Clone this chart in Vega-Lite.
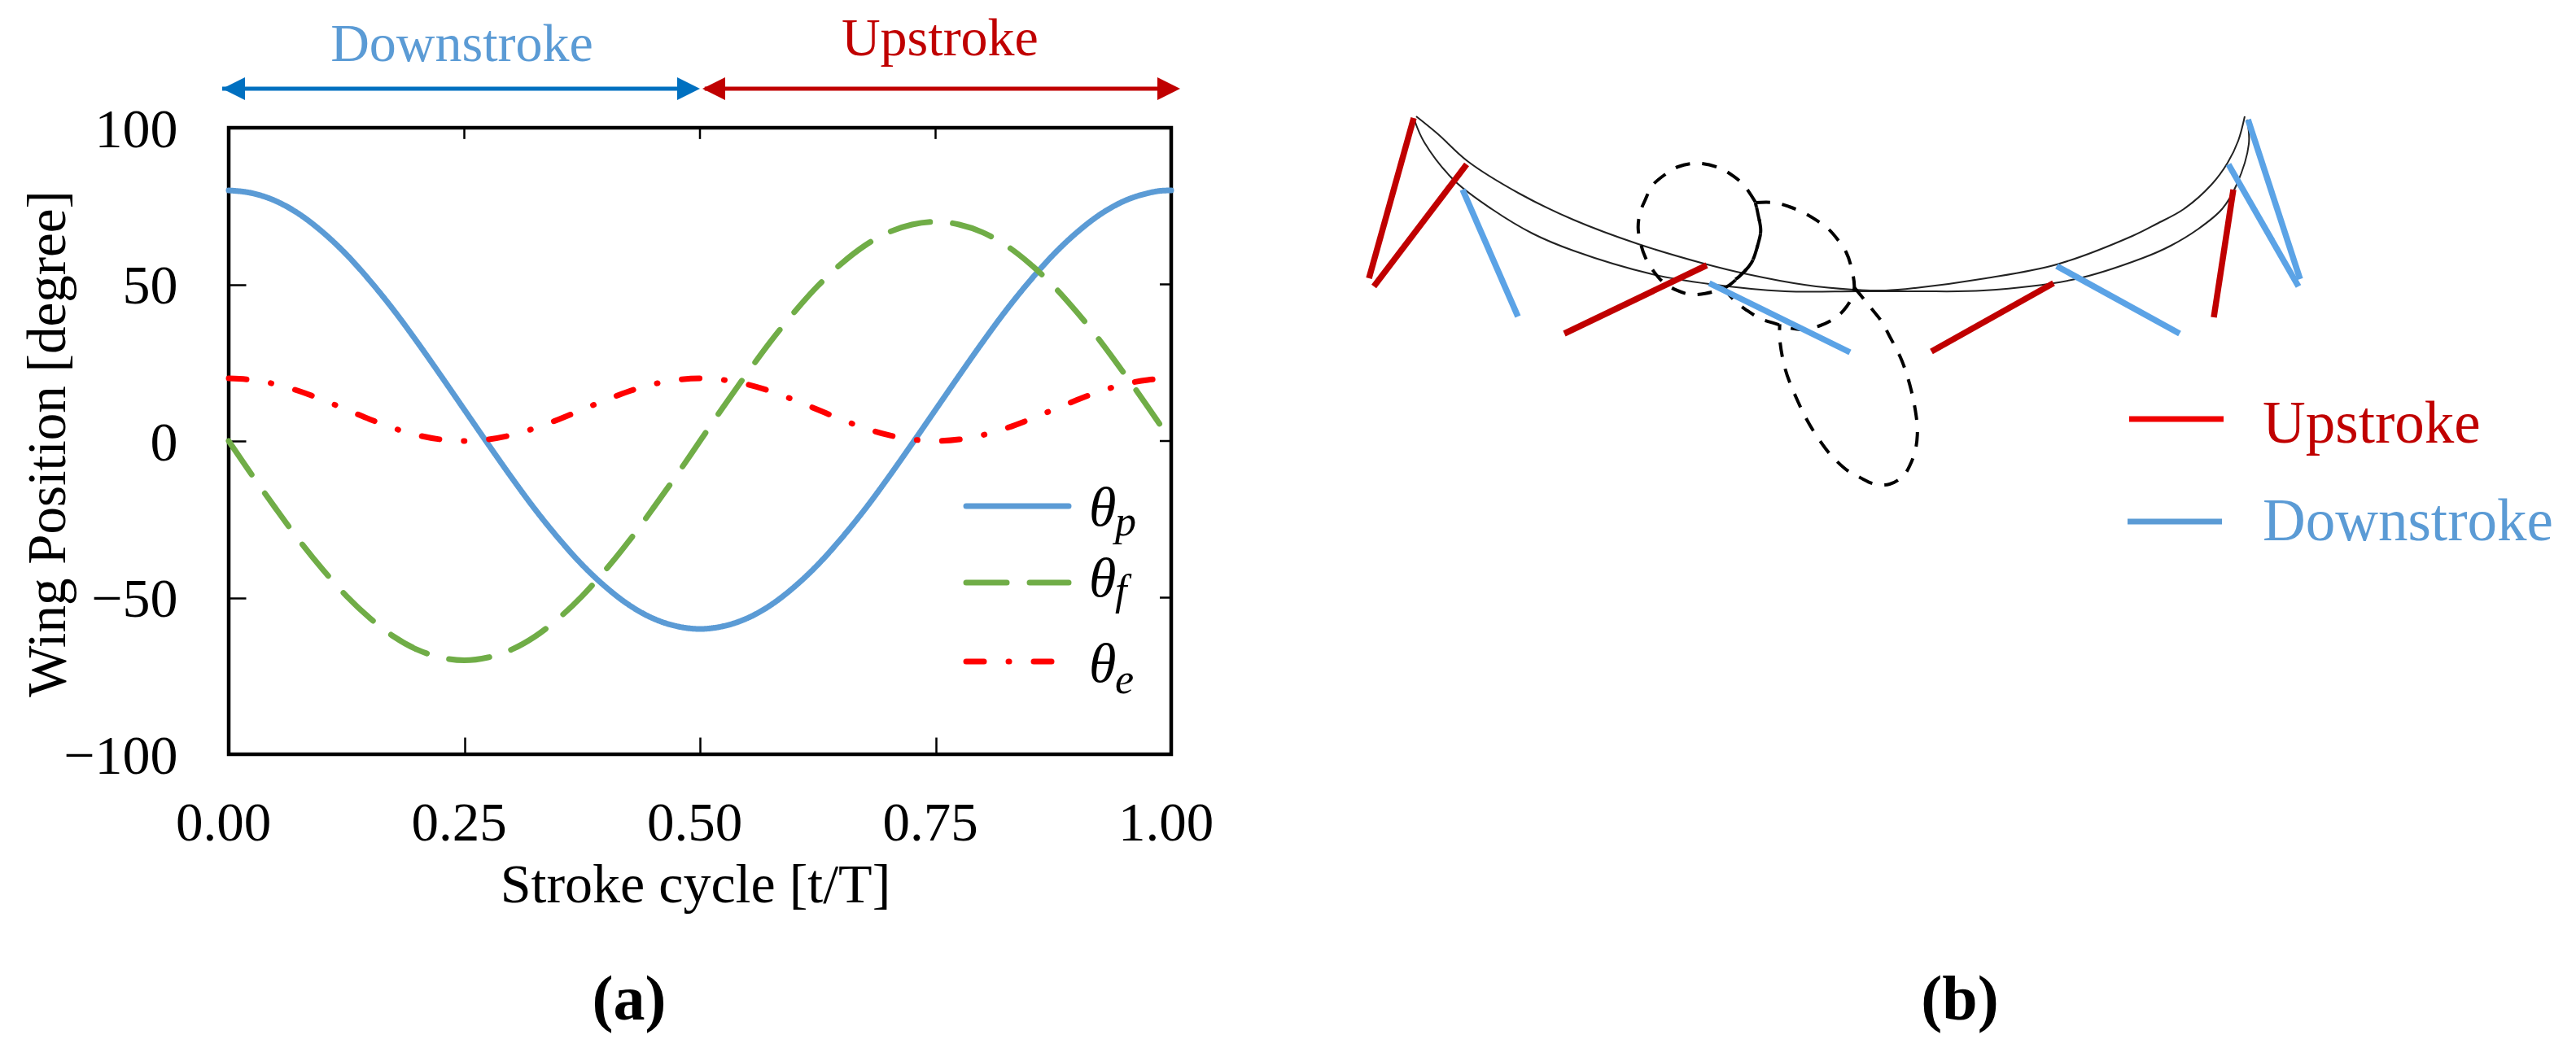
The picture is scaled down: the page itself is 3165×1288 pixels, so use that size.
{
"$schema":"https://vega.github.io/schema/vega-lite/v6.json",
"autosize":{"type":"none"},
"padding":{"left":281,"top":157,"right":2884,"bottom":1131},
"background":"white",
"bounds":"flush",
"spacing":161,
"config":{"font":"Liberation Serif","text":{"font":"Liberation Serif"}},
"hconcat":[
{"width":1158,"height":770,
 "view":{"stroke":"#000000","strokeWidth":4.5},
 "layer":[
 {"data":{"values":[
  {"t":0,"p":80,"f":0,"e":20},{"t":0.025,"p":79.1,"f":-11,"e":19.5},{"t":0.05,"p":76.6,"f":-21.6,"e":18.1},{"t":0.075,"p":72.4,"f":-31.8,"e":15.9},{"t":0.1,"p":66.6,"f":-41.1,"e":13.1},{"t":0.125,"p":59.5,"f":-49.5,"e":10},{"t":0.15,"p":51.1,"f":-56.6,"e":6.9},{"t":0.175,"p":41.8,"f":-62.4,"e":4.1},{"t":0.2,"p":31.6,"f":-66.6,"e":1.9},{"t":0.225,"p":20.9,"f":-69.1,"e":0.5},{"t":0.25,"p":10,"f":-70,"e":0},{"t":0.275,"p":-0.9,"f":-69.1,"e":0.5},{"t":0.3,"p":-11.6,"f":-66.6,"e":1.9},{"t":0.325,"p":-21.8,"f":-62.4,"e":4.1},{"t":0.35,"p":-31.1,"f":-56.6,"e":6.9},{"t":0.375,"p":-39.5,"f":-49.5,"e":10},{"t":0.4,"p":-46.6,"f":-41.1,"e":13.1},{"t":0.425,"p":-52.4,"f":-31.8,"e":15.9},{"t":0.45,"p":-56.6,"f":-21.6,"e":18.1},{"t":0.475,"p":-59.1,"f":-11,"e":19.5},{"t":0.5,"p":-60,"f":0,"e":20},{"t":0.525,"p":-59.1,"f":11,"e":19.5},{"t":0.55,"p":-56.6,"f":21.6,"e":18.1},{"t":0.575,"p":-52.4,"f":31.8,"e":15.9},{"t":0.6,"p":-46.6,"f":41.1,"e":13.1},{"t":0.625,"p":-39.5,"f":49.5,"e":10},{"t":0.65,"p":-31.1,"f":56.6,"e":6.9},{"t":0.675,"p":-21.8,"f":62.4,"e":4.1},{"t":0.7,"p":-11.6,"f":66.6,"e":1.9},{"t":0.725,"p":-0.9,"f":69.1,"e":0.5},{"t":0.75,"p":10,"f":70,"e":0},{"t":0.775,"p":20.9,"f":69.1,"e":0.5},{"t":0.8,"p":31.6,"f":66.6,"e":1.9},{"t":0.825,"p":41.8,"f":62.4,"e":4.1},{"t":0.85,"p":51.1,"f":56.6,"e":6.9},{"t":0.875,"p":59.5,"f":49.5,"e":10},{"t":0.9,"p":66.6,"f":41.1,"e":13.1},{"t":0.925,"p":72.4,"f":31.8,"e":15.9},{"t":0.95,"p":76.6,"f":21.6,"e":18.1},{"t":0.975,"p":79.1,"f":11,"e":19.5},{"t":0.99,"p":79.9,"f":4.4,"e":19.9},{"t":1,"p":80,"e":20}
  ]},
  "transform":[{"fold":["p","f","e"],"as":["series","angle"]},{"filter":"isValid(datum.angle)"}],
  "mark":{"type":"line","strokeWidth":7,"strokeCap":"round","interpolate":"monotone","clip":false},
  "encoding":{
   "x":{"field":"t","type":"quantitative","scale":{"domain":[0,1],"nice":false},
    "axis":{"values":[0,0.25,0.5,0.75,1],"format":".2f","domain":false,"grid":false,"tickSize":-21,"tickWidth":2.5,"tickColor":"#000","labelFontSize":67,"labelFont":"Liberation Serif","labelColor":"#000","labelPadding":126,"labelBaseline":"alphabetic","labelOffset":-7,"labelFlush":false,"labelOverlap":false,"title":"Stroke cycle [t/T]","titleFont":"Liberation Serif","titleFontWeight":"normal","titleFontSize":68,"titleColor":"#000","titleX":573,"titleY":181,"titleBaseline":"alphabetic","titleAlign":"center","titleAnchor":null}},
   "y":{"field":"angle","type":"quantitative","scale":{"domain":[-100,100],"nice":false},
    "axis":{"values":[-100,-50,0,50,100],"domain":false,"grid":false,"tickSize":-21,"tickWidth":2.5,"tickColor":"#000","labelFontSize":68,"labelFont":"Liberation Serif","labelColor":"#000","labelPadding":84,"labelOffset":3,"labelFlush":false,"labelOverlap":false,"title":"Wing Position [degree]","titleFont":"Liberation Serif","titleFontWeight":"normal","titleFontSize":67,"titleColor":"#000","titleX":-202,"titleY":388,"titleBaseline":"alphabetic","titleAlign":"center","titleAnchor":null,"titleAngle":-90}},
   "color":{"field":"series","type":"nominal","scale":{"domain":["p","f","e"],"range":["#5b9bd5","#70ad47","#ff0000"]},"legend":null},
   "strokeDash":{"field":"series","type":"nominal","scale":{"domain":["p","f","e"],"range":[[1,0],[50,28],[22,30,1,30]]},"legend":null}
  }},
 {"data":{"values":[
  {"series":"p","t":0.7824,"v":-20.8},{"series":"p","t":0.8912,"v":-20.8},
  {"series":"f","t":0.7824,"v":-45.2},{"series":"f","t":0.8912,"v":-45.2},
  {"series":"e","t":0.7824,"v":-70.4},{"series":"e","t":0.874,"v":-70.4}]},
  "mark":{"type":"line","strokeWidth":7,"strokeCap":"round"},
  "encoding":{"x":{"field":"t","type":"quantitative"},"y":{"field":"v","type":"quantitative"},
   "color":{"field":"series","type":"nominal","legend":null},
   "strokeDash":{"field":"series","type":"nominal","legend":null}}},
 {"data":{"values":[
  {"t":0.25,"t2":0.25,"v":100,"v2":96.4},{"t":0.5,"t2":0.5,"v":100,"v2":96.4},{"t":0.75,"t2":0.75,"v":100,"v2":96.4},
  {"t":1,"t2":0.9879,"v":50,"v2":50},{"t":1,"t2":0.9879,"v":0,"v2":0},{"t":1,"t2":0.9879,"v":-50,"v2":-50}]},
  "mark":{"type":"rule","strokeWidth":2.5,"color":"#000"},
  "encoding":{"x":{"field":"t","type":"quantitative"},"x2":{"field":"t2"},"y":{"field":"v","type":"quantitative"},"y2":{"field":"v2"}}},
 {"data":{"values":[{"part":"down","t":-0.0069,"v":112.5},{"part":"down","t":0.49,"v":112.5},{"part":"up","t":0.505,"v":112.5},{"part":"up","t":1.0,"v":112.5}]},
  "mark":{"type":"line","strokeWidth":5,"clip":false},
  "encoding":{"x":{"field":"t","type":"quantitative"},"y":{"field":"v","type":"quantitative"},
   "detail":{"field":"part"},
   "color":{"condition":{"test":"datum.part==='down'","value":"#0070c0"},"value":"#c00000"}}},
 {"data":{"values":[{"dir":"start","part":"down","t":0.0052,"v":112.5},{"dir":"end","part":"down","t":0.4879,"v":112.5},{"dir":"start","part":"up","t":0.5147,"v":112.5},{"dir":"end","part":"up","t":0.9974,"v":112.5}]},
  "mark":{"type":"point","filled":true,"size":784,"opacity":1,"clip":false},
  "encoding":{"x":{"field":"t","type":"quantitative"},"y":{"field":"v","type":"quantitative"},
   "shape":{"field":"dir","type":"nominal","scale":{"domain":["start","end"],"range":["M1,-1L-1,0L1,1Z","M-1,-1L1,0L-1,1Z"]},"legend":null},
   "color":{"condition":{"test":"datum.part==='down'","value":"#0070c0"},"value":"#c00000"}}},
 {"data":{"values":[{"label":"Downstroke","t":0.2474,"v":121.3,"part":"down"},{"label":"Upstroke","t":0.7547,"v":123.1,"part":"up"}]},
  "mark":{"type":"text","fontSize":66,"align":"center","baseline":"alphabetic"},
  "encoding":{"x":{"field":"t","type":"quantitative"},"y":{"field":"v","type":"quantitative"},"text":{"field":"label"},
   "color":{"condition":{"test":"datum.part==='down'","value":"#5b9bd5"},"value":"#c00000"}}},
 {"data":{"values":[{"label":"θ","t":0.9127,"v":-27},{"label":"θ","t":0.9127,"v":-49.6},{"label":"θ","t":0.9127,"v":-76.9}]},
  "mark":{"type":"text","fontSize":68,"fontStyle":"italic","align":"left","baseline":"alphabetic","color":"#000"},
  "encoding":{"x":{"field":"t","type":"quantitative"},"y":{"field":"v","type":"quantitative"},"text":{"field":"label"}}},
 {"data":{"values":[{"label":"p","t":0.9404,"v":-30.1},{"label":"f","t":0.9404,"v":-52.2},{"label":"e","t":0.9404,"v":-80.5}]},
  "mark":{"type":"text","fontSize":52,"fontStyle":"italic","align":"left","baseline":"alphabetic","color":"#000"},
  "encoding":{"x":{"field":"t","type":"quantitative"},"y":{"field":"v","type":"quantitative"},"text":{"field":"label"}}},
 {"data":{"values":[{"label":"(a)","t":0.4249,"v":-184.7}]},
  "mark":{"type":"text","fontSize":78,"fontWeight":"bold","align":"center","baseline":"alphabetic","color":"#000"},
  "encoding":{"x":{"field":"t","type":"quantitative"},"y":{"field":"v","type":"quantitative"},"text":{"field":"label"}}}
 ]},
{"width":1565,"height":770,
 "view":{"stroke":null},
 "encoding":{
   "x":{"field":"x","type":"quantitative","scale":{"domain":[1600,3165],"nice":false,"zero":false},"axis":null},
   "y":{"field":"y","type":"quantitative","scale":{"domain":[927,157],"nice":false,"zero":false},"axis":null}},
 "layer":[
 {"data":{"values":[
  {"part":"u","i":0,"x":1740,"y":143},{"part":"u","i":1,"x":1767,"y":165},{"part":"u","i":2,"x":1803,"y":198},{"part":"u","i":3,"x":1867,"y":238},{"part":"u","i":4,"x":1933,"y":270},{"part":"u","i":5,"x":2013,"y":300},{"part":"u","i":6,"x":2090,"y":323},{"part":"u","i":7,"x":2147,"y":337},{"part":"u","i":8,"x":2217,"y":350},{"part":"u","i":9,"x":2277,"y":356},{"part":"u","i":10,"x":2317,"y":357},{"part":"u","i":11,"x":2353,"y":354},{"part":"u","i":12,"x":2440,"y":342},{"part":"u","i":13,"x":2527,"y":325},{"part":"u","i":14,"x":2620,"y":290},{"part":"u","i":15,"x":2650,"y":275},{"part":"u","i":16,"x":2683,"y":257},{"part":"u","i":17,"x":2717,"y":227},{"part":"u","i":18,"x":2737,"y":200},{"part":"u","i":19,"x":2750,"y":173},{"part":"u","i":20,"x":2758,"y":143},
  {"part":"l","i":0,"x":1738,"y":148},{"part":"l","i":1,"x":1750,"y":175},{"part":"l","i":2,"x":1787,"y":222},{"part":"l","i":3,"x":1833,"y":257},{"part":"l","i":4,"x":1883,"y":287},{"part":"l","i":5,"x":1933,"y":308},{"part":"l","i":6,"x":2030,"y":337},{"part":"l","i":7,"x":2100,"y":349},{"part":"l","i":8,"x":2193,"y":358},{"part":"l","i":9,"x":2283,"y":358},{"part":"l","i":10,"x":2355,"y":358},{"part":"l","i":11,"x":2437,"y":357},{"part":"l","i":12,"x":2550,"y":343},{"part":"l","i":13,"x":2633,"y":317},{"part":"l","i":14,"x":2667,"y":302},{"part":"l","i":15,"x":2700,"y":282},{"part":"l","i":16,"x":2730,"y":257},{"part":"l","i":17,"x":2748,"y":227},{"part":"l","i":18,"x":2763,"y":177},{"part":"l","i":19,"x":2761,"y":147}]},
  "mark":{"type":"line","interpolate":"catmull-rom","strokeWidth":2,"color":"#222222","clip":false},
  "encoding":{"detail":{"field":"part"},"order":{"field":"i","type":"quantitative"}}},
 {"data":{"values":[
  {"part":"a","i":0,"x":2156.7,"y":248.3},{"part":"a","i":1,"x":2143.3,"y":228.3},{"part":"a","i":2,"x":2130,"y":216.7},{"part":"a","i":3,"x":2113.3,"y":206.7},{"part":"a","i":4,"x":2086.7,"y":200.7},{"part":"a","i":5,"x":2061.7,"y":205},{"part":"a","i":6,"x":2045,"y":215},{"part":"a","i":7,"x":2030,"y":228.3},{"part":"a","i":8,"x":2021.7,"y":245},{"part":"a","i":9,"x":2015,"y":261.7},{"part":"a","i":10,"x":2012.7,"y":280},{"part":"a","i":11,"x":2016,"y":300},{"part":"a","i":12,"x":2021.7,"y":316.7},{"part":"a","i":13,"x":2031.7,"y":333.3},{"part":"a","i":14,"x":2043.3,"y":346.7},{"part":"a","i":15,"x":2060,"y":356.7},{"part":"a","i":16,"x":2076.7,"y":361.7},{"part":"a","i":17,"x":2095,"y":360.7},{"part":"a","i":18,"x":2120,"y":353.3},{"part":"a","i":19,"x":2136.7,"y":340},{"part":"a","i":20,"x":2151.7,"y":323.3},{"part":"a","i":21,"x":2160,"y":300},{"part":"a","i":22,"x":2163.3,"y":283.3},{"part":"a","i":23,"x":2160,"y":263.3},{"part":"a","i":24,"x":2156.7,"y":248.3},
  {"part":"b","i":0,"x":2156.7,"y":249},{"part":"b","i":1,"x":2180,"y":249},{"part":"b","i":2,"x":2198.3,"y":254},{"part":"b","i":3,"x":2216.7,"y":261.7},{"part":"b","i":4,"x":2233.3,"y":271.7},{"part":"b","i":5,"x":2246.7,"y":281.7},{"part":"b","i":6,"x":2258.3,"y":295},{"part":"b","i":7,"x":2268.3,"y":310},{"part":"b","i":8,"x":2275,"y":330},{"part":"b","i":9,"x":2278.3,"y":353.3},{"part":"b","i":10,"x":2275,"y":366.7},{"part":"b","i":11,"x":2265,"y":381.7},{"part":"b","i":12,"x":2253.3,"y":391.7},{"part":"b","i":13,"x":2236.7,"y":400},{"part":"b","i":14,"x":2216.7,"y":405},{"part":"b","i":15,"x":2200,"y":403.3},{"part":"b","i":16,"x":2183.3,"y":398.3},{"part":"b","i":17,"x":2163.3,"y":391.7},{"part":"b","i":18,"x":2146.7,"y":381.7},{"part":"b","i":19,"x":2131.7,"y":370},{"part":"b","i":20,"x":2120,"y":353.3},{"part":"b","i":21,"x":2136.7,"y":340},{"part":"b","i":22,"x":2151.7,"y":323.3},{"part":"b","i":23,"x":2160,"y":300},{"part":"b","i":24,"x":2163.3,"y":283.3},{"part":"b","i":25,"x":2160,"y":263.3},{"part":"b","i":26,"x":2156.7,"y":249},
  {"part":"c","i":0,"x":2278.3,"y":353.3},{"part":"c","i":1,"x":2300,"y":380},{"part":"c","i":2,"x":2311.7,"y":395},{"part":"c","i":3,"x":2321.7,"y":413.3},{"part":"c","i":4,"x":2336.7,"y":443.3},{"part":"c","i":5,"x":2348.3,"y":480},{"part":"c","i":6,"x":2355,"y":516.7},{"part":"c","i":7,"x":2355.7,"y":535},{"part":"c","i":8,"x":2353.3,"y":553.3},{"part":"c","i":9,"x":2346.7,"y":571.7},{"part":"c","i":10,"x":2338.3,"y":585},{"part":"c","i":11,"x":2321.7,"y":595},{"part":"c","i":12,"x":2303.3,"y":595},{"part":"c","i":13,"x":2285,"y":586.7},{"part":"c","i":14,"x":2270,"y":578.3},{"part":"c","i":15,"x":2255,"y":565},{"part":"c","i":16,"x":2243.3,"y":551.7},{"part":"c","i":17,"x":2223.3,"y":521.7},{"part":"c","i":18,"x":2206.7,"y":488.3},{"part":"c","i":19,"x":2193.3,"y":453.3},{"part":"c","i":20,"x":2186.7,"y":416.7},{"part":"c","i":21,"x":2186.7,"y":398.3}]},
  "mark":{"type":"line","interpolate":"catmull-rom","strokeWidth":4,"strokeDash":[18,15],"color":"#000","clip":false},
  "encoding":{"detail":{"field":"part"},"order":{"field":"i","type":"quantitative"}}},
 {"data":{"values":[
  {"part":"r1","i":0,"x":1737,"y":145},{"part":"r1","i":1,"x":1682,"y":342},
  {"part":"r2","i":0,"x":1802,"y":202},{"part":"r2","i":1,"x":1688,"y":352},
  {"part":"r3","i":0,"x":2097,"y":326},{"part":"r3","i":1,"x":1922,"y":410},
  {"part":"r4","i":0,"x":2523,"y":348},{"part":"r4","i":1,"x":2373,"y":432},
  {"part":"r5","i":0,"x":2744,"y":233},{"part":"r5","i":1,"x":2720,"y":390}]},
  "mark":{"type":"line","strokeWidth":7.5,"color":"#c00000","clip":false},
  "encoding":{"detail":{"field":"part"},"order":{"field":"i","type":"quantitative"}}},
 {"data":{"values":[
  {"part":"b1","i":0,"x":1797,"y":233},{"part":"b1","i":1,"x":1865,"y":389},
  {"part":"b2","i":0,"x":2100,"y":348},{"part":"b2","i":1,"x":2273,"y":433},
  {"part":"b3","i":0,"x":2527,"y":327},{"part":"b3","i":1,"x":2678,"y":410},
  {"part":"b4","i":0,"x":2738,"y":202},{"part":"b4","i":1,"x":2824,"y":352},
  {"part":"b5","i":0,"x":2762,"y":147},{"part":"b5","i":1,"x":2826,"y":343}]},
  "mark":{"type":"line","strokeWidth":7.5,"color":"#5ba3e6","clip":false},
  "encoding":{"detail":{"field":"part"},"order":{"field":"i","type":"quantitative"}}},
 {"data":{"values":[{"part":"Upstroke","i":0,"x":2616,"y":515},{"part":"Upstroke","i":1,"x":2732,"y":515},{"part":"Downstroke","i":0,"x":2614,"y":641},{"part":"Downstroke","i":1,"x":2730,"y":641}]},
  "mark":{"type":"line","strokeWidth":7,"clip":false},
  "encoding":{"detail":{"field":"part"},"order":{"field":"i","type":"quantitative"},
   "color":{"condition":{"test":"datum.part==='Upstroke'","value":"#f00000"},"value":"#5b9bd5"}}},
 {"data":{"values":[{"label":"Upstroke","x":2780,"y":544},{"label":"Downstroke","x":2780,"y":664}]},
  "mark":{"type":"text","fontSize":73,"align":"left","baseline":"alphabetic","clip":false},
  "encoding":{"text":{"field":"label"},
   "color":{"condition":{"test":"datum.label==='Upstroke'","value":"#c00000"},"value":"#5b9bd5"}}},
 {"data":{"values":[{"label":"(b)","x":2408,"y":1253}]},
  "mark":{"type":"text","fontSize":78,"fontWeight":"bold","align":"center","baseline":"alphabetic","color":"#000","clip":false},
  "encoding":{"text":{"field":"label"}}}
 ]}
]
}
